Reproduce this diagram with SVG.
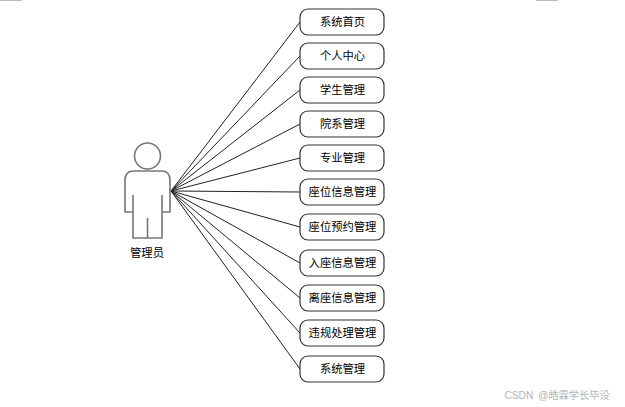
<svg xmlns="http://www.w3.org/2000/svg" width="625" height="407" viewBox="0 0 625 407">
<style>
text{font-family:"Liberation Sans","Noto Sans CJK SC",sans-serif;font-size:11.300px;text-anchor:middle;fill:#000}
.n{fill:#fff;stroke:#333;stroke-width:1.200}
.c line{stroke:#222;stroke-width:1}
.a{fill:none;stroke:#777;stroke-width:1.600}
</style>
<rect width="625" height="407" fill="#fff"/>
<rect x="0" y="0" width="22" height="1" fill="#bbb"/>
<rect x="536" y="0" width="22" height="1" fill="#bbb"/>
<g id="connectors" class="c">
<line x1="171" y1="191" x2="300" y2="22"/>
<line x1="171" y1="191" x2="300" y2="56"/>
<line x1="171" y1="191" x2="300" y2="90"/>
<line x1="171" y1="191" x2="300" y2="124"/>
<line x1="171" y1="191" x2="300" y2="158"/>
<line x1="171" y1="191" x2="300" y2="192"/>
<line x1="171" y1="191" x2="300" y2="227"/>
<line x1="171" y1="191" x2="300" y2="263"/>
<line x1="171" y1="191" x2="300" y2="298"/>
<line x1="171" y1="191" x2="300" y2="333"/>
<line x1="171" y1="191" x2="300" y2="369"/>
</g>
<g id="actor">
<circle class="a" cx="147.500" cy="156" r="13"/>
<path class="a" d="M133 212H125V180Q125 171 134 171H161Q170 171 170 180V212H162M133 195V238H162V195M147.500 218V238"/>
<text x="147" y="256.500">管理员</text>
</g>
<g id="n1"><rect class="n" x="300" y="9" width="84" height="26" rx="8"/><text x="342.500" y="26">系统首页</text></g>
<g id="n2"><rect class="n" x="300" y="43" width="84" height="26" rx="8"/><text x="342.500" y="60">个人中心</text></g>
<g id="n3"><rect class="n" x="300" y="77" width="84" height="26" rx="8"/><text x="342.500" y="94">学生管理</text></g>
<g id="n4"><rect class="n" x="300" y="111" width="84" height="26" rx="8"/><text x="342.500" y="128">院系管理</text></g>
<g id="n5"><rect class="n" x="300" y="145" width="84" height="26" rx="8"/><text x="342.500" y="162">专业管理</text></g>
<g id="n6"><rect class="n" x="300" y="179" width="84" height="26" rx="8"/><text x="342.500" y="196">座位信息管理</text></g>
<g id="n7"><rect class="n" x="300" y="214" width="84" height="26" rx="8"/><text x="342.500" y="231">座位预约管理</text></g>
<g id="n8"><rect class="n" x="300" y="250" width="84" height="26" rx="8"/><text x="342.500" y="267">入座信息管理</text></g>
<g id="n9"><rect class="n" x="300" y="285" width="84" height="26" rx="8"/><text x="342.500" y="302">离座信息管理</text></g>
<g id="n10"><rect class="n" x="300" y="320" width="84" height="26" rx="8"/><text x="342.500" y="337">违规处理管理</text></g>
<g id="n11"><rect class="n" x="300" y="356" width="84" height="26" rx="8"/><text x="342.500" y="373">系统管理</text></g>
<text x="557" y="399" style="fill:#b4b4b4;font-size:10.200px;word-spacing:2px">CSDN @皓霖学长毕设</text>
</svg>
